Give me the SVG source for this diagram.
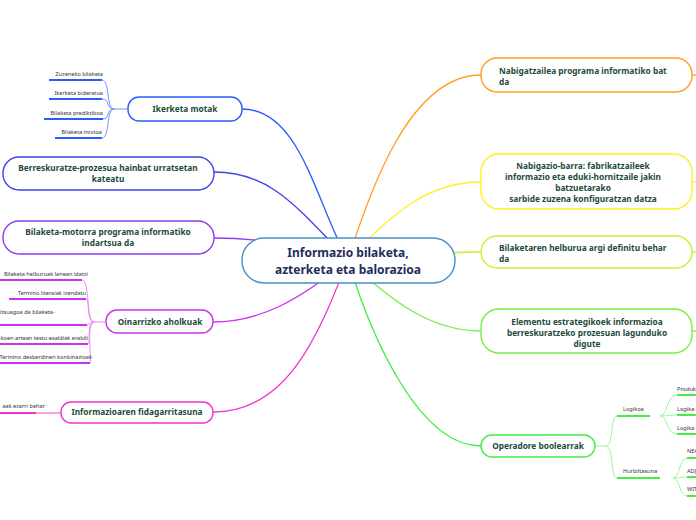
<svg xmlns="http://www.w3.org/2000/svg" width="696" height="520" viewBox="0 0 696 520">
<style>
.n{fill:#fff;stroke-width:1.4}
.t{font-family:"Noto Sans","Open Sans",sans-serif;font-weight:bold;font-size:8.3px;fill:#1d4a3c}
.c{text-anchor:middle}
.ct{font-family:"Noto Sans","Open Sans",sans-serif;font-weight:bold;font-size:12px;fill:#1f2d5c;text-anchor:middle}
.l{font-family:"Noto Sans","Open Sans",sans-serif;font-size:5.6px;fill:#333}
.e{text-anchor:end}
.w{fill:none;stroke-width:1.3}
.u{fill:none;stroke-width:2}
.v{fill:none;stroke-width:1}
</style>
<rect width="696" height="520" fill="#fff"/>
<g id="connectors">
<path class="w" stroke="#2a5cff" d="M242 109 C300 109 315 200 348 260"/>
<path class="w" stroke="#4040ee" d="M214 172 C270 172 295 205 348 260"/>
<path class="w" stroke="#8c3cf0" d="M214 238 C260 238 300 245 348 260"/>
<path class="w" stroke="#cc33ee" d="M213 322 C260 322 300 300 348 260"/>
<path class="w" stroke="#ee33cc" d="M213 412 C290 412 320 330 348 260"/>
<path class="w" stroke="#ff9e1a" d="M481 75 C410 75 370 190 348 260"/>
<path class="w" stroke="#ffee22" d="M481 182 C430 182 395 210 348 260"/>
<path class="w" stroke="#ccf033" d="M481 252 C430 252 400 258 348 260"/>
<path class="w" stroke="#77ee44" d="M481 331 C430 331 390 300 348 260"/>
<path class="w" stroke="#44ee44" d="M481 446 C420 446 372 340 348 260"/>
<path class="w" stroke="#ff9e1a" d="M692 75 L696 75"/>
<path class="w" stroke="#ffee22" d="M692 182 L696 182"/>
<path class="w" stroke="#ccf033" d="M692 252 L696 252"/>
<path class="w" stroke="#77ee44" d="M692 331 L696 331"/>
<g stroke="#6f8fff">
<path class="v" d="M128 109 L114 109 C106 109 110 80 102 80"/>
<path class="v" d="M114 109 C106 109 110 99 102 99"/>
<path class="v" d="M114 109 C106 109 110 119 103 119"/>
<path class="v" d="M114 109 C106 109 110 138 102 138"/>
</g>
<g stroke="#2a5cff">
<path class="u" d="M49 80 H102"/><path class="u" d="M49 99 H102"/><path class="u" d="M44 119 H103"/><path class="u" d="M55 138 H102"/>
</g>
<g stroke="#e88af5">
<path class="v" d="M106 322 L94 322 C86 322 90 280 82 280"/>
<path class="v" d="M94 322 C86 322 90 299 86 299"/>
<path class="v" d="M94 322 C88 322 90 325 87 325"/>
<path class="v" d="M94 322 C86 322 91 344 88 344"/>
<path class="v" d="M94 322 C86 322 92 363 90 363"/>
</g>
<g stroke="#cc33ee">
<path class="u" d="M0 280 H82"/><path class="u" d="M9 299 H86"/><path class="u" d="M0 325 H87"/><path class="u" d="M0 344 H88"/><path class="u" d="M0 363 H90"/>
</g>
<path class="u" stroke="#f5a3e3" d="M36 413 H61"/>
<path class="u" stroke="#ee33cc" d="M0 413 H36"/>
<g stroke="#9cf59c">
<path class="v" d="M595 446 L606 446 C614 446 610 416 617 416"/>
<path class="v" d="M606 446 C614 446 610 478 617 478"/>
<path class="v" d="M660 416 C668 416 666 395 677 395"/>
<path class="v" d="M660 416 C668 416 666 415 677 415"/>
<path class="v" d="M660 416 C668 416 666 434 677 434"/>
<path class="v" d="M673 478 C680 478 679 458 687 458"/>
<path class="v" d="M673 478 C680 478 679 477 687 477"/>
<path class="v" d="M673 478 C680 478 679 496 687 496"/>
</g>
<g stroke="#44ee44">
<path class="u" d="M617 416 H650"/><path class="u" d="M617 478 H660"/>
<path class="u" d="M677 395 H696"/><path class="u" d="M677 415 H696"/><path class="u" d="M677 434 H696"/>
<path class="u" d="M687 458 H696"/><path class="u" d="M687 477 H696"/><path class="u" d="M687 496 H696"/>
</g>
</g>
<g id="central">
<rect class="n" x="242" y="238" width="213" height="45" rx="22" stroke="#4a8fc8"/>
<text class="ct" x="348" y="257">Informazio bilaketa,</text>
<text class="ct" x="348" y="274">azterketa eta balorazioa</text>
</g>
<g id="ikerketa">
<rect class="n" x="128" y="97" width="114" height="24" rx="11" stroke="#2a5cff"/>
<text class="t c" x="185" y="112">Ikerketa motak</text>
</g>
<g id="zuzeneko"><text class="l e" x="103" y="76">Zuzeneko bilaketa</text></g>
<g id="ikerketa-bideratua"><text class="l e" x="103" y="95">Ikerketa bideratua</text></g>
<g id="bilaketa-prediktiboa"><text class="l e" x="103" y="115">Bilaketa prediktiboa</text></g>
<g id="bilaketa-mixtoa"><text class="l e" x="102" y="134">Bilaketa mixtoa</text></g>
<g id="berreskuratze">
<rect class="n" x="3" y="157" width="211" height="33" rx="16" stroke="#4040ee"/>
<text class="t c" x="108" y="171">Berreskuratze-prozesua hainbat urratsetan</text>
<text class="t c" x="108" y="182">kateatu</text>
</g>
<g id="bilaketa-motorra">
<rect class="n" x="3" y="221" width="211" height="33" rx="16" stroke="#8c3cf0"/>
<text class="t c" x="108" y="235">Bilaketa-motorra programa informatiko</text>
<text class="t c" x="108" y="246">indartsua da</text>
</g>
<g id="oinarrizko">
<rect class="n" x="106" y="310" width="107" height="23" rx="11" stroke="#cc33ee"/>
<text class="t c" x="160" y="325">Oinarrizko aholkuak</text>
</g>
<g id="helburuak"><text class="l e" x="88" y="276">Bilaketa helburuak lanean idatzi</text></g>
<g id="termino-literalak"><text class="l e" x="86" y="295">Termino literalak izendatu</text></g>
<g id="bilaketa-"><text class="l" x="0" y="314">itsuagoa da bilaketa-</text></g>
<g id="testu-esaldiak"><text class="l e" x="88" y="340">koen artean testu-esaldiak erabili</text></g>
<g id="konbinazioak"><text class="l e" x="92" y="359">Termino desberdinen konbinazioak</text></g>
<g id="fidagarritasuna">
<rect class="n" x="61" y="402" width="152" height="21" rx="10" stroke="#ee33cc"/>
<text class="t c" x="137" y="415">Informazioaren fidagarritasuna</text>
</g>
<g id="ezarri"><text class="l e" x="45" y="408">aak ezarri behar</text></g>
<g id="nabigatzailea">
<rect class="n" x="481" y="58" width="211" height="34" rx="16" stroke="#ff9e1a"/>
<text class="t" x="499" y="74">Nabigatzailea programa informatiko bat</text>
<text class="t" x="499" y="85">da</text>
</g>
<g id="nabigazio-barra">
<rect class="n" x="481" y="154" width="211" height="55" rx="18" stroke="#ffee22"/>
<text class="t c" x="583" y="169">Nabigazio-barra: fabrikatzaileek</text>
<text class="t c" x="583" y="180">informazio eta eduki-hornitzaile jakin</text>
<text class="t c" x="583" y="191">batzuetarako</text>
<text class="t c" x="583" y="202">sarbide zuzena konfiguratzan datza</text>
</g>
<g id="bilaketaren-helburua">
<rect class="n" x="481" y="236" width="211" height="32" rx="16" stroke="#ccf033"/>
<text class="t" x="499" y="251">Bilaketaren helburua argi definitu behar</text>
<text class="t" x="499" y="262">da</text>
</g>
<g id="elementu">
<rect class="n" x="481" y="309" width="211" height="44" rx="18" stroke="#77ee44"/>
<text class="t c" x="587" y="325">Elementu estrategikoek informazioa</text>
<text class="t c" x="587" y="336">berreskuratzeko prozesuan lagunduko</text>
<text class="t c" x="587" y="347">digute</text>
</g>
<g id="operadore">
<rect class="n" x="481" y="435" width="114" height="22" rx="11" stroke="#44ee44"/>
<text class="t c" x="538" y="449">Operadore boolearrak</text>
</g>
<g id="logikoa"><text class="l" x="623" y="411">Logikoa</text></g>
<g id="hurbiltasuna"><text class="l" x="623" y="473">Hurbiltasuna</text></g>
<g id="produktu"><text class="l" x="677" y="391">Produktu logikoa</text></g>
<g id="logika-batura"><text class="l" x="677" y="411">Logika batura</text></g>
<g id="logika-kenketa"><text class="l" x="677" y="430">Logika kenketa</text></g>
<g id="near"><text class="l" x="687" y="453">NEAR</text></g>
<g id="adj"><text class="l" x="687" y="473">ADJ</text></g>
<g id="with"><text class="l" x="687" y="491">WITH</text></g>
</svg>
